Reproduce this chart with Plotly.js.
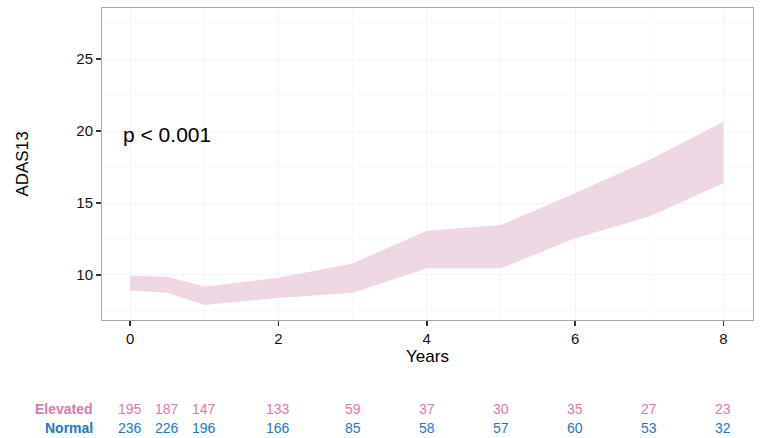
<!DOCTYPE html>
<html>
<head>
<meta charset="utf-8">
<script src="https://cdn.plot.ly/plotly-3.0.1.min.js"></script>
<style>
  html, body { margin: 0; padding: 0; background: #fff; }
  #plot { width: 762px; height: 438px; }
</style>
</head>
<body>
<div id="plot"></div>
<script>
// follow-up times (years) and ADAS13 band for the elevated group
let years = [0, 0.5, 1, 2, 3, 4, 5, 6, 7, 8];
let upper = [9.95, 9.88, 9.2, 9.8, 10.8, 13.08, 13.47, 15.67, 17.99, 20.65];
let lower = [8.9, 8.77, 7.92, 8.4, 8.77, 10.46, 10.46, 12.55, 14.06, 16.37];

// numbers at risk
let groups = ["Elevated", "Normal"];
let elevatedN = [195, 187, 147, 133, 59, 37, 30, 35, 27, 23];
let normalN = [236, 226, 196, 166, 85, 58, 57, 60, 53, 32];

let pink = '#d67bb0';
let blue = '#1b7bbf';
let font = 'Liberation Sans, Arial, sans-serif';

let traceLow = {
    x: years, y: lower, type: 'scatter', mode: 'lines',
    line: {width: 0, color: 'rgba(0,0,0,0)'},
    showlegend: false, hoverinfo: 'skip'
};
let traceHigh = {
    x: years, y: upper, type: 'scatter', mode: 'lines',
    line: {width: 0, color: 'rgba(0,0,0,0)'},
    fill: 'tonexty', fillcolor: '#efd6e3',
    showlegend: false, hoverinfo: 'skip'
};

// at-risk table under the plot
let rowA = -0.284, rowB = -0.345;
let annotations = [
    {xref: 'paper', yref: 'paper', x: -0.012, y: rowA, text: '<b>' + groups[0] + '</b>',
     showarrow: false, xanchor: 'right', yanchor: 'middle', borderpad: 0,
     font: {family: font, size: 14, color: pink}},
    {xref: 'paper', yref: 'paper', x: -0.012, y: rowB, text: '<b>' + groups[1] + '</b>',
     showarrow: false, xanchor: 'right', yanchor: 'middle', borderpad: 0,
     font: {family: font, size: 14, color: blue}},
    {xref: 'x', yref: 'y', x: -0.13, y: 19.75, text: 'p < 0.001', showarrow: false,
     xanchor: 'left', font: {family: font, size: 21, color: '#000'}}
];
years.forEach((yr, i) => {
    annotations.push({xref: 'x', yref: 'paper', x: yr, y: rowA, text: String(elevatedN[i]),
        showarrow: false, yanchor: 'middle', borderpad: 0,
        font: {family: font, size: 14, color: pink}});
    annotations.push({xref: 'x', yref: 'paper', x: yr, y: rowB, text: String(normalN[i]),
        showarrow: false, yanchor: 'middle', borderpad: 0,
        font: {family: font, size: 14, color: blue}});
});

let layout = {
    width: 762, height: 438,
    margin: {l: 102, r: 9, t: 8, b: 118},
    paper_bgcolor: '#fff', plot_bgcolor: '#fff',
    font: {family: font, size: 14, color: '#000'},
    xaxis: {
        range: [-0.38, 8.4], tickvals: [0, 2, 4, 6, 8],
        ticks: 'outside', ticklen: 5, tickcolor: '#333', tickwidth: 1.5,
        showgrid: true, gridcolor: '#f3f3f3', gridwidth: 1,
        minor: {tickvals: [1, 3, 5, 7], showgrid: true, gridcolor: '#f8f8f8'},
        zeroline: false, showline: true, linecolor: '#a8a8a8', mirror: true,
        title: {text: 'Years', font: {size: 17}, standoff: 4},
        tickfont: {size: 15, color: '#111'}
    },
    yaxis: {
        range: [6.87, 28.55], tickvals: [10, 15, 20, 25],
        ticks: 'outside', ticklen: 5, tickcolor: '#333', tickwidth: 1.5,
        showgrid: true, gridcolor: '#f3f3f3', gridwidth: 1,
        minor: {tickvals: [7.5, 12.5, 17.5, 22.5, 27.5], showgrid: true, gridcolor: '#f8f8f8'},
        zeroline: false, showline: true, linecolor: '#a8a8a8', mirror: true,
        title: {text: 'ADAS13', font: {size: 17}, standoff: 43},
        tickfont: {size: 15, color: '#111'}
    },
    annotations: annotations,
    showlegend: false
};

Plotly.newPlot('plot', [traceLow, traceHigh], layout, {displayModeBar: false, staticPlot: true});
</script>
</body>
</html>
